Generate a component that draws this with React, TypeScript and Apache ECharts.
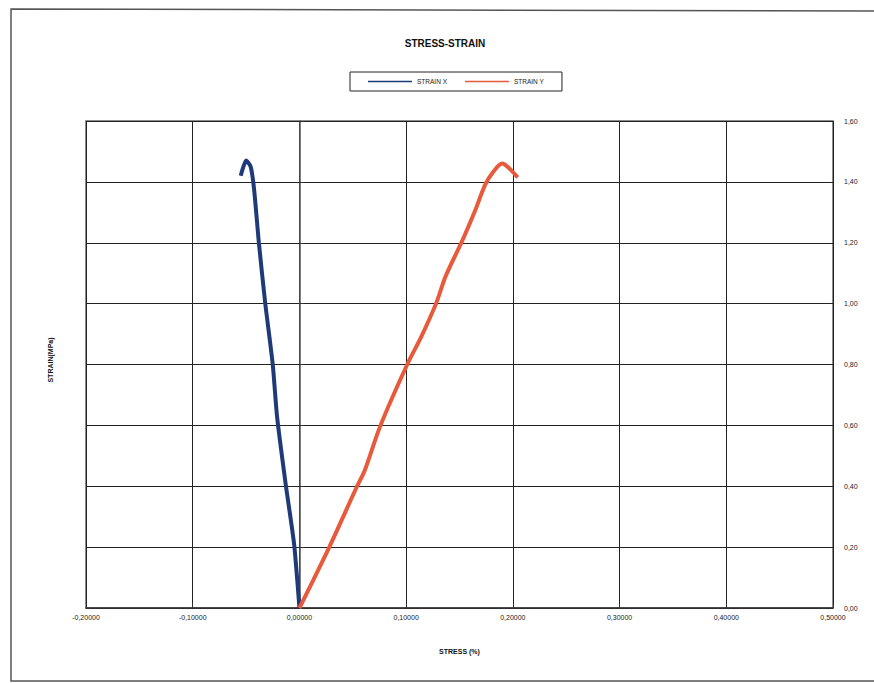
import React, { useEffect, useRef } from "react";
import * as echarts from "echarts";

const strainXStress = [0.0, -0.005, -0.013, -0.021, -0.025, -0.032, -0.038, -0.0425, -0.0457, -0.05, -0.055];
const strainXStrain = [0.0, 0.21, 0.41, 0.63, 0.8, 1.0, 1.2, 1.376, 1.45, 1.47, 1.42];

const strainYStress = [0.0, 0.028, 0.054, 0.061, 0.076, 0.101, 0.114, 0.128, 0.137, 0.153, 0.164, 0.174, 0.181, 0.19, 0.195, 0.2045];
const strainYStrain = [0.0, 0.2, 0.4, 0.45, 0.6, 0.8, 0.89, 1.0, 1.09, 1.21, 1.3, 1.39, 1.43, 1.46, 1.45, 1.415];

const title = "STRESS-STRAIN";
const seriesNames = ["STRAIN X", "STRAIN Y"];
const xName = "STRESS (%)";
const yName = "STRAIN(MPa)";

const FONT = "Liberation Sans, Arial, sans-serif";

export default function App() {
  const ref = useRef<HTMLDivElement>(null);
  useEffect(() => {
    if (!ref.current) return;
    const chart = echarts.init(ref.current, undefined, { renderer: "svg" });
    const pair = (xs: number[], ys: number[]) => xs.map((x, i) => [x, ys[i]]);
    chart.setOption({
      animation: false,
      backgroundColor: "#ffffff",
      textStyle: { fontFamily: FONT },
      title: {
        text: title,
        left: 440,
        textAlign: "center",
        top: 33,
        textStyle: { fontSize: 10, fontWeight: "bold", color: "#111", fontFamily: FONT },
      },
      legend: {
        left: 350,
        top: 72,
        padding: [6, 18, 6, 18],
        itemGap: 18,
        itemWidth: 44,
        itemHeight: 8,
        borderColor: "#222",
        borderWidth: 1,
        icon: "path://M0,3.2 L44,3.2 L44,4.8 L0,4.8 Z",
        textStyle: { fontSize: 6.5, color: "#222", fontFamily: FONT },
        data: seriesNames,
      },
      grid: { left: 86, right: 41, top: 121, bottom: 75, containLabel: false },
      xAxis: {
        type: "value",
        min: -0.2,
        max: 0.5,
        interval: 0.1,
        name: xName,
        nameLocation: "middle",
        nameGap: 40,
        nameTextStyle: { fontSize: 7, fontWeight: "bold", color: "#111", fontFamily: FONT },
        axisLine: { show: true, onZero: false, lineStyle: { color: "#333", width: 1.5 } },
        axisTick: { show: true, inside: true, length: 4, lineStyle: { color: "#333" } },
        axisLabel: {
          fontSize: 7,
          color: "#222",
          margin: 6,
          formatter: (v: number) => v.toFixed(5).replace(".", ","),
        },
        splitLine: { show: true, lineStyle: { color: "#222", width: 1 } },
      },
      yAxis: {
        type: "value",
        position: "right",
        min: 0,
        max: 1.6,
        interval: 0.2,
        axisLine: { show: true, lineStyle: { color: "#555", width: 1.5 } },
        axisTick: { show: true, length: 5, lineStyle: { color: "#333" } },
        axisLabel: {
          fontSize: 7,
          color: "#222",
          margin: 11,
          formatter: (v: number) => v.toFixed(2).replace(".", ","),
        },
        splitLine: { show: true, lineStyle: { color: "#222", width: 1 } },
      },
      graphic: [
        {
          type: "text",
          x: 50,
          y: 360,
          rotation: Math.PI / 2,
          style: {
            text: yName,
            fill: "#111",
            font: "bold 7px Liberation Sans, Arial, sans-serif",
            textAlign: "center",
            textVerticalAlign: "middle",
          },
        },
        {
          type: "rect",
          shape: { x: 86, y: 121, width: 747, height: 487 },
          style: { fill: "none", stroke: "#666", lineWidth: 1.5 },
          silent: true,
        },
        {
          type: "polyline",
          shape: { points: [[880, 11], [11, 9], [11, 681], [880, 681]] },
          style: { fill: "none", stroke: "#555", lineWidth: 1.5 },
          silent: true,
        },
      ],
      series: [
        {
          name: seriesNames[0],
          type: "line",
          smooth: 0.2,
          showSymbol: false,
          symbol: "none",
          data: pair(strainXStress, strainXStrain),
          lineStyle: { color: "#1f3a78", width: 4 },
          itemStyle: { color: "#1f3a78" },
        },
        {
          name: seriesNames[1],
          type: "line",
          smooth: 0.3,
          showSymbol: false,
          symbol: "none",
          data: pair(strainYStress, strainYStrain),
          lineStyle: { color: "#e85a3c", width: 4 },
          itemStyle: { color: "#e85a3c" },
        },
      ],
    });
    return () => chart.dispose();
  }, []);
  return (
    <div
      ref={ref}
      style={{ position: "fixed", left: 0, top: 0, width: 874, height: 683 }}
    />
  );
}
